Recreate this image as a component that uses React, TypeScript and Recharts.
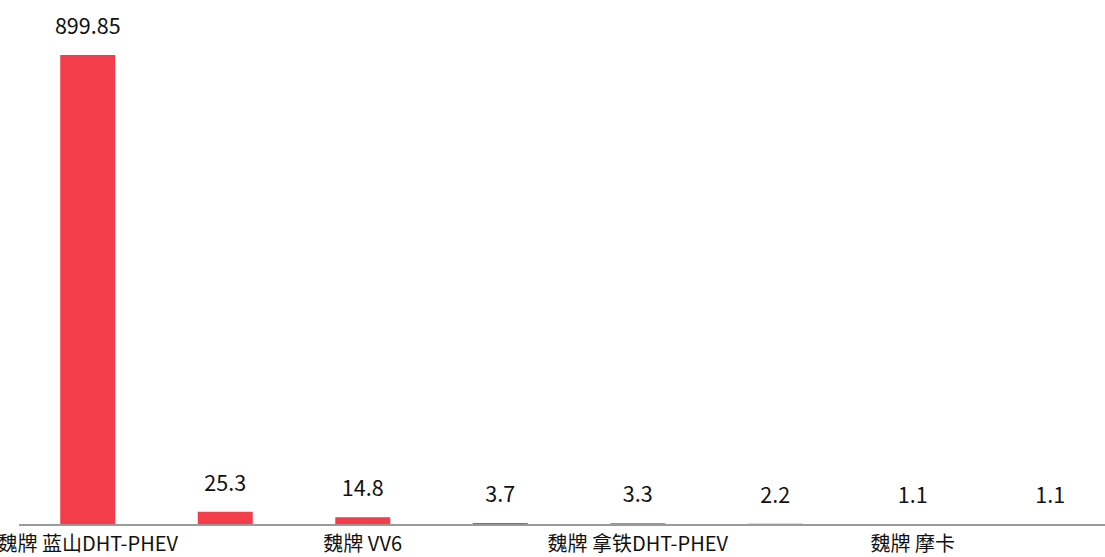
import React from "react";
import { BarChart, Bar, XAxis, YAxis, LabelList } from "recharts";

// 车型名称（只显示隔一个的标签）
const models = [
  "魏牌 蓝山DHT-PHEV",
  "魏牌 高山DHT-PHEV",
  "魏牌 VV6",
  "魏牌 VV7",
  "魏牌 拿铁DHT-PHEV",
  "魏牌 摩卡DHT-PHEV",
  "魏牌 摩卡",
  "魏牌 VV5",
];

const values = [899.85, 25.3, 14.8, 3.7, 3.3, 2.2, 1.1, 1.1];

const data = models.map((name, i) => ({ name, value: values[i] }));

const FONT = '"Noto Sans CJK SC", "Noto Sans", sans-serif';

const App = () => {
  return (
    <div
      style={{
        position: "absolute",
        left: 0,
        top: 0,
        width: 1105,
        height: 557,
        overflow: "hidden",
        background: "#fff",
        fontFamily: FONT,
      }}
    >
      <BarChart
        width={1119}
        height={557}
        data={data}
        margin={{ top: 55, right: 0, bottom: 0, left: 19 }}
        barCategoryGap="30%"
      >
        <XAxis
          dataKey="name"
          interval={1}
          tickLine={false}
          axisLine={{ stroke: "#9a9a9a", strokeWidth: 2 }}
          height={32}
          tickMargin={6}
          tick={{ fill: "#111", fontSize: 20, fontFamily: FONT }}
        />
        <YAxis hide domain={[0, 899.85]} />
        <Bar dataKey="value" fill="#F33D4A" isAnimationActive={false}>
          <LabelList
            dataKey="value"
            position="top"
            offset={21}
            fill="#111"
            fontSize={21.5}
            fontFamily={FONT}
          />
        </Bar>
      </BarChart>
    </div>
  );
};

export default App;
